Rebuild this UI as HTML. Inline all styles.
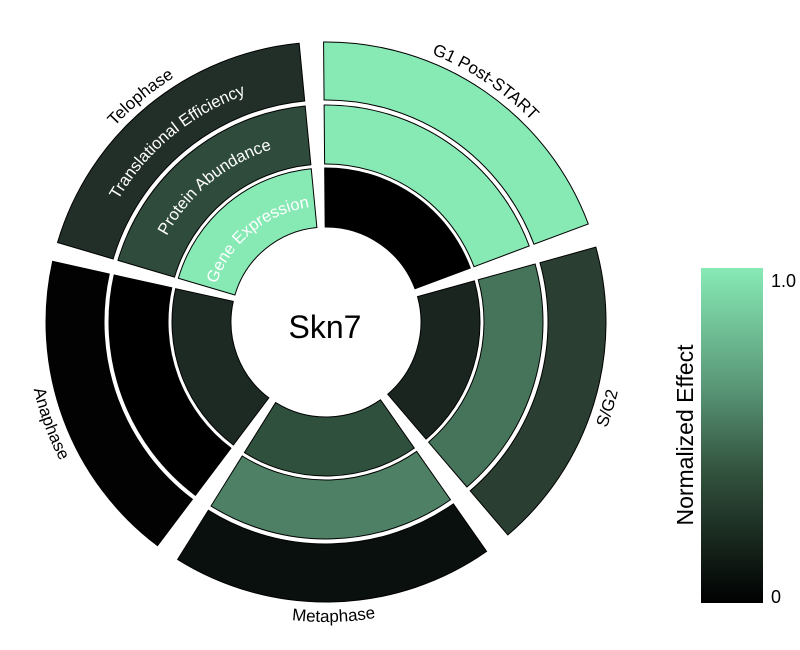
<!DOCTYPE html>
<html><head><meta charset="utf-8"><style>
html,body{margin:0;padding:0;background:#fff;width:800px;height:650px;overflow:hidden}
svg{display:block}
text{font-family:"Liberation Sans",sans-serif}
</style></head><body>
<svg id="s" width="800" height="650" viewBox="0 0 800 650" xmlns="http://www.w3.org/2000/svg">
<defs>
<linearGradient id="cb" x1="0" y1="0" x2="0" y2="1">
<stop offset="0" stop-color="#87eab5"/><stop offset="0.35" stop-color="#5a9878"/><stop offset="0.6" stop-color="#33543f"/><stop offset="1" stop-color="#000"/>
</linearGradient>
<path id="pG1" d="M326,34 A288,288 0 0 1 596.6,223.5"/>
<path id="pTelo" d="M49.2,242.6 A288,288 0 0 1 300.9,35.1"/>
<path id="pTE" d="M94.3,255.6 A241,241 0 0 1 305,81.9"/>
<path id="pPA" d="M152,272.1 A181,181 0 0 1 310.2,141.7"/>
<path id="pGE" d="M214.5,290 A116,116 0 0 1 315.9,206.4"/>
<path id="pMeta" d="M167,576.4 A300,300 0 0 0 498,567.8"/>
<path id="pAna" d="M33.1,257.1 A300,300 0 0 0 145.5,561.6"/>
<path id="pSG2" d="M520.8,550.1 A300,300 0 0 0 615.1,241.9"/>
</defs>
<g id="wedges"></g>
<text x="325" y="338" font-size="32" text-anchor="middle" fill="#000">Skn7</text>
<text font-size="17" fill="#000"><textPath href="#pG1" startOffset="48%" text-anchor="middle">G1 Post-START</textPath></text>
<text font-size="17" fill="#000"><textPath href="#pTelo" startOffset="50%" text-anchor="middle">Telophase</textPath></text>
<text font-size="16.5" fill="#fff"><textPath href="#pTE" startOffset="50%" text-anchor="middle">Translational Efficiency</textPath></text>
<text font-size="16.5" fill="#fff"><textPath href="#pPA" startOffset="50%" text-anchor="middle">Protein Abundance</textPath></text>
<text font-size="16.5" fill="#fff"><textPath href="#pGE" startOffset="50%" text-anchor="middle">Gene Expression</textPath></text>
<text font-size="17" fill="#000"><textPath href="#pMeta" startOffset="50%" text-anchor="middle">Metaphase</textPath></text>
<text font-size="17" fill="#000"><textPath href="#pAna" startOffset="50%" text-anchor="middle">Anaphase</textPath></text>
<text font-size="17" fill="#000"><textPath href="#pSG2" startOffset="50%" text-anchor="middle">S/G2</textPath></text>
<rect x="701" y="268" width="62" height="335" fill="url(#cb)"/>
<text x="771" y="287" font-size="18" fill="#000">1.0</text>
<text x="771" y="603" font-size="18" fill="#000">0</text>
<text transform="translate(693,435) rotate(-90)" font-size="23" text-anchor="middle" fill="#000">Normalized Effect</text>
</svg>
<script>
(function(){
var cx=326,cy=322;
var radii=[[95,154],[158,217],[222,280]];
var sectors=[
[-0.5,69.5,["#000000","#87eab5","#87eab5"]],
[74.5,139.5,["#1b2520","#45745b","#2a3e31"]],
[145,212,["#30503e","#4d8064","#0a100d"]],
[217,282.5,["#1d2a23","#000000","#010201"]],
[286.5,354.5,["#87eab5","#2f4b3b","#222f28"]]
];
function pt(r,b){var a=b*Math.PI/180;return [(cx+r*Math.sin(a)).toFixed(2),(cy-r*Math.cos(a)).toFixed(2)];}
var g=document.getElementById('wedges'),html='';
sectors.forEach(function(s){
for(var i=0;i<3;i++){
var r0=radii[i][0],r1=radii[i][1],a0=s[0],a1=s[1];
var p1=pt(r1,a0),p2=pt(r1,a1),p3=pt(r0,a1),p4=pt(r0,a0);
var lg=(a1-a0)>180?1:0;
var d='M'+p1+' A'+r1+','+r1+' 0 '+lg+' 1 '+p2+' L'+p3+' A'+r0+','+r0+' 0 '+lg+' 0 '+p4+' Z';
html+='<path d="'+d+'" fill="'+s[2][i]+'" stroke="#000" stroke-width="1"/>';
}
});
g.innerHTML=html;
})();
</script>
</body></html>
